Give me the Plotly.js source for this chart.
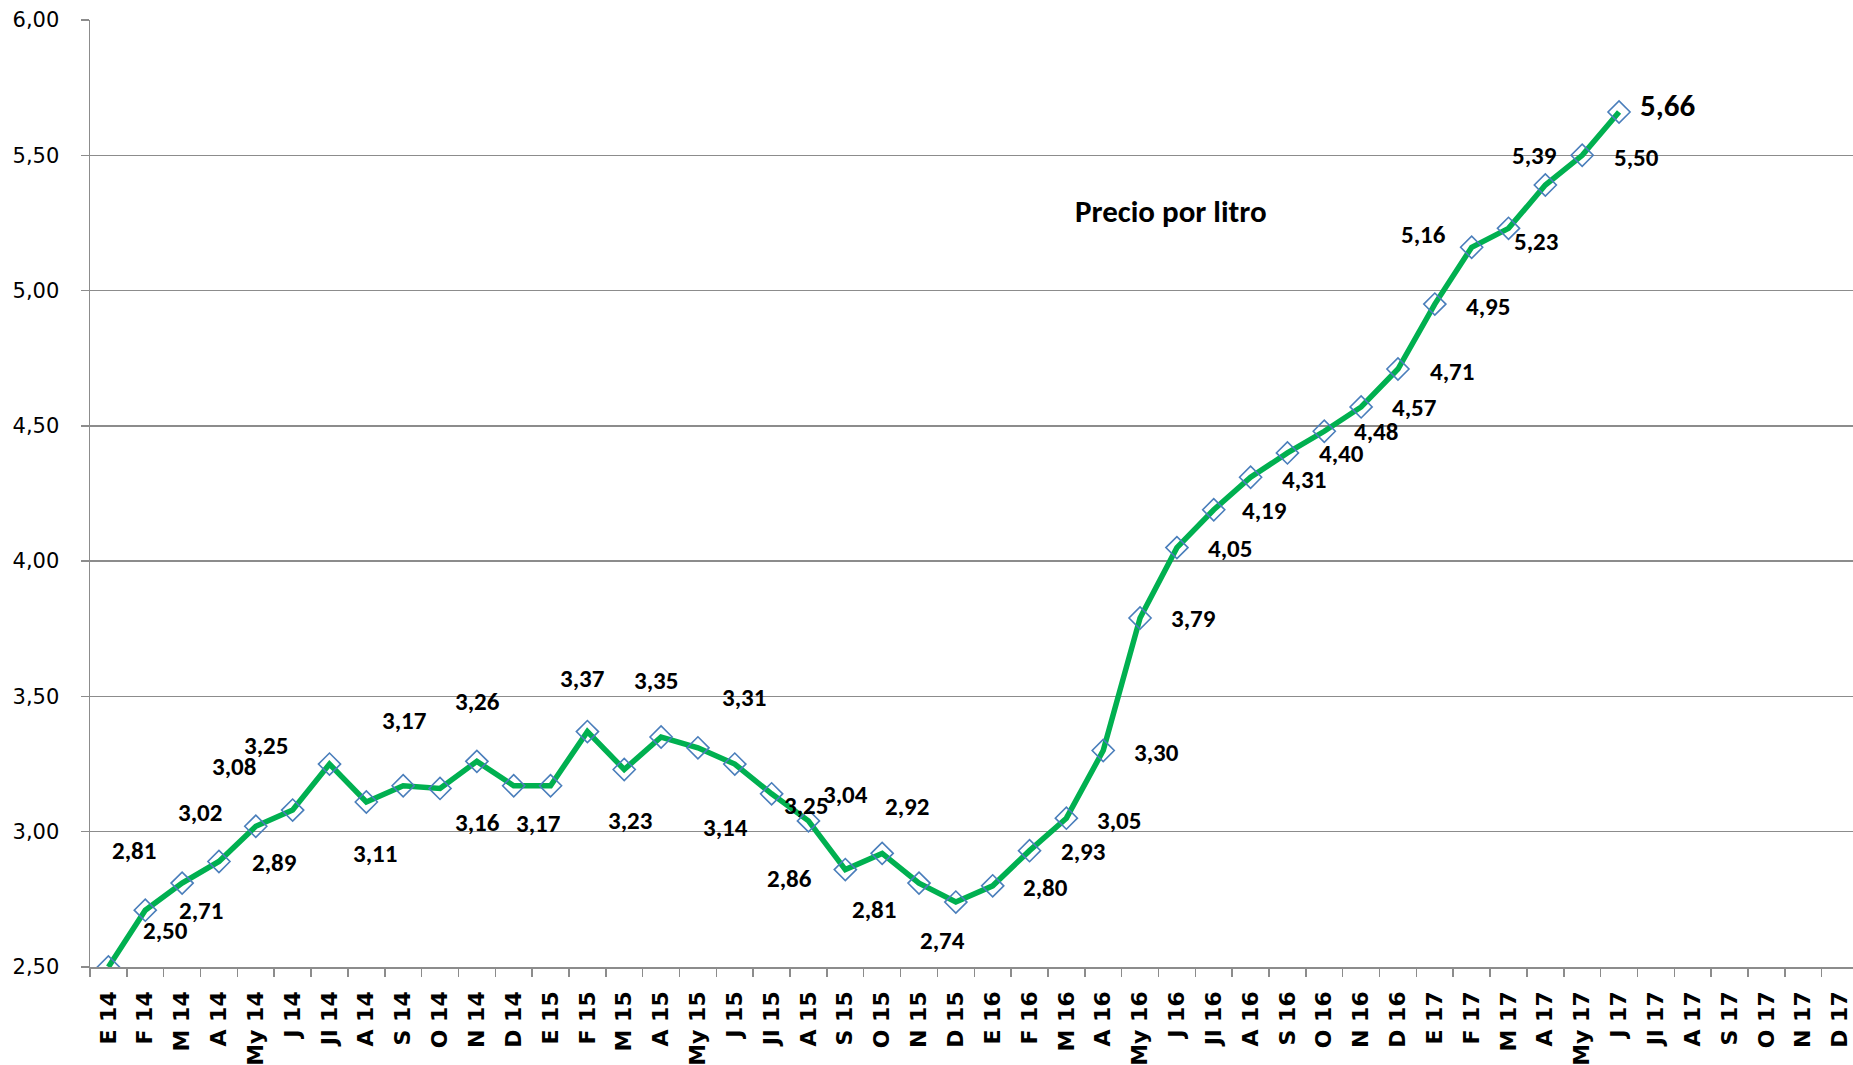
<!DOCTYPE html>
<html>
<head>
<meta charset="utf-8">
<script src="https://cdn.plot.ly/plotly-3.0.1.min.js"></script>
<style>
  html, body { margin: 0; padding: 0; background: #ffffff; }
  #chart { width: 1853px; height: 1065px; }
</style>
</head>
<body>
<div id="chart"></div>
<script>
// ---- Data ----
const categories = [
  "E 14","F 14","M 14","A 14","My 14","J 14","Jl 14","A 14","S 14","O 14","N 14","D 14",
  "E 15","F 15","M 15","A 15","My 15","J 15","Jl 15","A 15","S 15","O 15","N 15","D 15",
  "E 16","F 16","M 16","A 16","My 16","J 16","Jl 16","A 16","S 16","O 16","N 16","D 16",
  "E 17","F 17","M 17","A 17","My 17","J 17","Jl 17","A 17","S 17","O 17","N 17","D 17"
];
const prices = [
  2.50, 2.71, 2.81, 2.89, 3.02, 3.08, 3.25, 3.11, 3.17, 3.16, 3.26, 3.17,
  3.17, 3.37, 3.23, 3.35, 3.31, 3.25, 3.14, 3.04, 2.86, 2.92, 2.81, 2.74,
  2.80, 2.93, 3.05, 3.30, 3.79, 4.05, 4.19, 4.31, 4.40, 4.48, 4.57, 4.71,
  4.95, 5.16, 5.23, 5.39, 5.50, 5.66
];
const yTickVals = [2.5, 3.0, 3.5, 4.0, 4.5, 5.0, 5.5, 6.0];
const seriesTitle = "Precio por litro";

// ---- Label placement (pixel offsets from each point; null = no label) ----
const labelDX = [
  57, 56, -48, 56, -56, -59, -63, 9, 1, 37, 1, 25,
  null, -5, 6, -5, 46, 71, -46, 37, -56, 25, -45, -13,
  53, 53, 53, 53, 53, 53, 51, 53, 54, 52, 53, 54,
  53, -48, 27, -11, 54, 48
];
const labelDY = [
  37, 0, 33, -1, 14, 44, 19, -52, 65, -34, 60, -38,
  null, 53, -51, 57, 50, -41, -34, 26, -9, 47, -26, -38,
  -2, -1, -2, -2, -1, -1, -1, -2, -1, 0, -1, -2,
  -2, 13, -13, 30, -2, 7
];

const idx = prices.map((_, i) => i);
const fmt = v => v.toFixed(2).replace('.', ',');
const labelFont = { family: "Carlito, 'Open Sans', sans-serif", size: 25, color: "#000000" };

const annotations = [];
prices.forEach((v, i) => {
  if (labelDX[i] === null) return;
  const last = i === prices.length - 1;
  annotations.push({
    x: i, y: v, xref: 'x', yref: 'y',
    text: '<b>' + fmt(v) + '</b>',
    showarrow: false,
    xshift: labelDX[i], yshift: labelDY[i],
    xanchor: 'center', yanchor: 'middle',
    font: Object.assign({}, labelFont, last ? { size: 31 } : {})
  });
});
annotations.push({
  x: 0.613, y: 0.798, xref: 'paper', yref: 'paper',
  text: '<b>' + seriesTitle + '</b>', showarrow: false,
  xanchor: 'center', yanchor: 'middle',
  font: { family: "Carlito, 'Open Sans', sans-serif", size: 31, color: '#000000' }
});

const trace = {
  x: idx,
  y: prices,
  type: 'scatter',
  mode: 'lines+markers',
  line: { color: '#00B050', width: 5.5 },
  marker: { symbol: 'diamond-open', size: 17, color: '#4A7EBB', line: { color: '#4A7EBB', width: 1.6 } },
  hoverinfo: 'skip'
};

const gridColor = '#8C8C8C';
const layout = {
  width: 1853, height: 1065,
  margin: { l: 90, r: 0, t: 20, b: 98 },
  paper_bgcolor: '#ffffff', plot_bgcolor: '#ffffff',
  showlegend: false,
  xaxis: {
    type: 'linear',
    range: [-0.5, 47.35],
    tickmode: 'array',
    tickvals: categories.map((_, i) => i),
    ticktext: categories.map(c => '<b>' + c + '</b>'),
    tickangle: -90,
    ticks: '',
    ticklabelstandoff: 14,
    tickfont: { family: "'DejaVu Sans', sans-serif", size: 22, color: '#000000' },
    minor: { tickmode: 'linear', tick0: -0.5, dtick: 1, ticks: 'outside', ticklen: 8, tickwidth: 1.5, tickcolor: gridColor, showgrid: false },
    showgrid: false, zeroline: false,
    showline: true, linecolor: gridColor, linewidth: 1.5,
    fixedrange: true
  },
  yaxis: {
    range: [2.5, 6.0],
    tickmode: 'array',
    tickvals: yTickVals,
    ticktext: yTickVals.map(fmt),
    ticks: 'outside', ticklen: 8, tickwidth: 1.5, tickcolor: gridColor,
    ticklabelstandoff: 17,
    tickfont: { family: "'DejaVu Sans', sans-serif", size: 21, color: '#000000' },
    showgrid: true, gridcolor: gridColor, gridwidth: 1.5,
    zeroline: false,
    showline: true, linecolor: gridColor, linewidth: 1.5,
    fixedrange: true
  },
  annotations: annotations
};

Plotly.newPlot('chart', [trace], layout, { displayModeBar: false, staticPlot: true });
</script>
</body>
</html>
